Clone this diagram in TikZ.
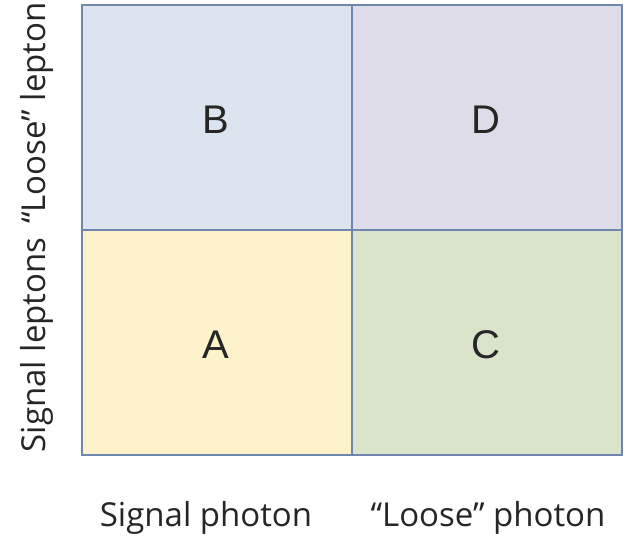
\documentclass[tikz,border=0pt]{standalone}
\usepackage{fontspec}
\setmainfont{Open Sans}
\newfontfamily\letterfont{Liberation Sans}
\definecolor{cB}{HTML}{DCE4F0}
\definecolor{cD}{HTML}{DEDCE8}
\definecolor{cA}{HTML}{FEF2CC}
\definecolor{cC}{HTML}{D9E4CA}
\definecolor{edge}{HTML}{6F87AE}
\begin{document}
\begin{tikzpicture}[x=1pt,y=-1pt,
  cell/.style={draw=edge, line width=1.2pt},
  letter/.style={font=\letterfont\fontsize{40}{48}\selectfont, text=black!85},
  axis/.style={font=\fontsize{33}{40}\selectfont, text=black!85}]
\useasboundingbox (0,0) rectangle (630,538);
\fill[white] (0,0) rectangle (630,538);
\filldraw[cell, fill=cB] (82,5) rectangle (352,230);
\filldraw[cell, fill=cD] (352,5) rectangle (622,230);
\filldraw[cell, fill=cA] (82,230) rectangle (352,455);
\filldraw[cell, fill=cC] (352,230) rectangle (622,455);
\node[letter] (B) at (216,120) {B};
\node[letter] (D) at (486,120) {D};
\node[letter] (A) at (216,345) {A};
\node[letter] (C) at (486,345) {C};
\node[axis] (xs) at (206,518) {Signal photon};
\node[axis] (xl) at (488,518) {“Loose” photon};
\node[axis, rotate=90] (ys) at (37,345) {Signal leptons};
\node[axis, rotate=90] (yl) at (37,113) {“Loose” lepton};
\end{tikzpicture}
\end{document}
